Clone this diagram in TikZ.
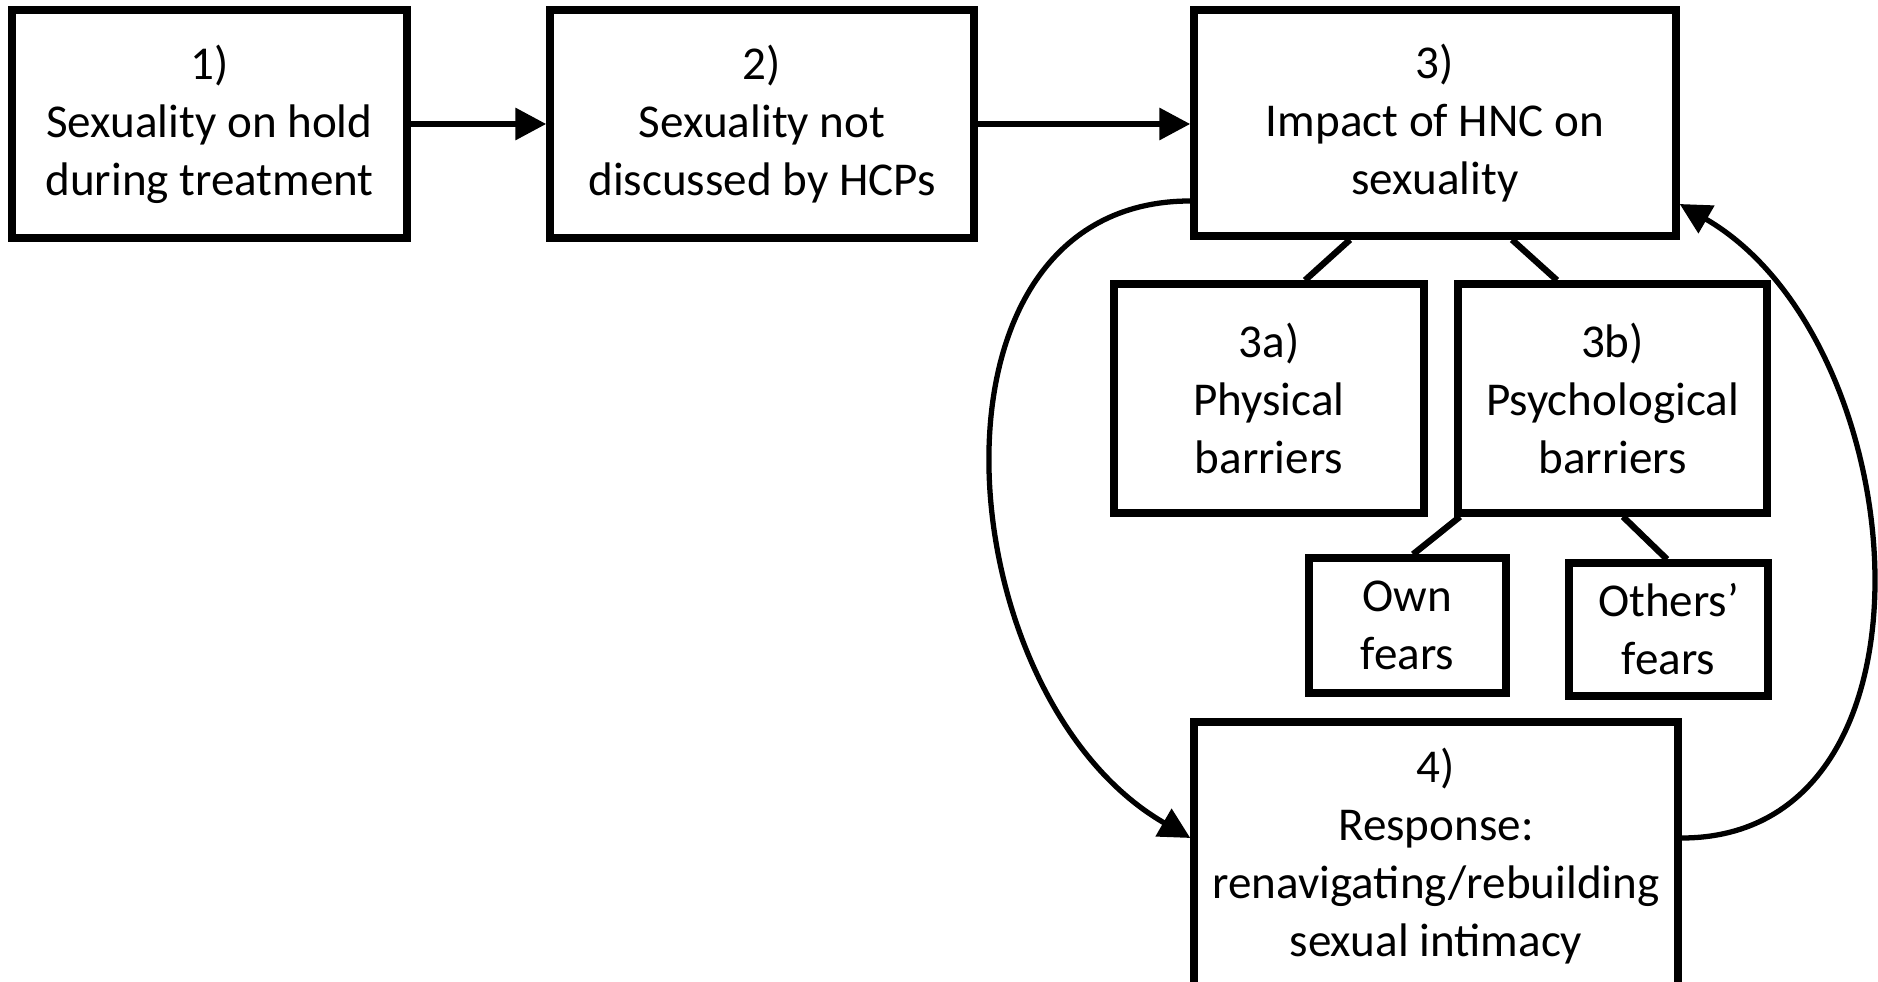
\documentclass[tikz,border=0pt]{standalone}
\usepackage{fontspec}
\setmainfont{Carlito}
\usetikzlibrary{arrows.meta}

\begin{document}
\begin{tikzpicture}[
    box/.style={draw=black, line width=2.1pt, align=center, inner sep=0pt,
      font=\fontsize{13.4}{16.5}\selectfont},
    flow/.style={line width=1.8pt, -{Triangle[length=3.1mm, width=3.1mm]}},
    loopback/.style={line width=1.5pt, -{Triangle[length=3.1mm, width=3.1mm]}},
    branch/.style={line width=1.8pt}]
  \useasboundingbox (0,0) rectangle (18.78,-9.82);
  % top row
  \node[box, minimum width=3.95cm, minimum height=2.28cm] (hold) at (2.095,-1.24)
    {1)\\Sexuality on hold\\during treatment};
  \node[box, minimum width=4.24cm, minimum height=2.28cm] (notdisc) at (7.62,-1.24)
    {2)\\Sexuality not\\discussed by HCPs};
  \node[box, minimum width=4.82cm, minimum height=2.26cm] (impact) at (14.35,-1.23)
    {3)\\Impact of HNC on\\sexuality};
  % barriers
  \node[box, minimum width=3.10cm, minimum height=2.29cm] (phys) at (12.69,-3.985)
    {3a)\\Physical\\barriers};
  \node[box, minimum width=3.09cm, minimum height=2.29cm] (psych) at (16.125,-3.985)
    {3b)\\Psychological\\barriers};
  \node[box, minimum width=1.97cm, minimum height=1.35cm] (own) at (14.075,-6.255)
    {Own\\fears};
  \node[box, minimum width=1.99cm, minimum height=1.33cm] (others) at (16.685,-6.295)
    {Others'\\fears};
  % response
  \node[box, minimum width=4.84cm, minimum height=2.68cm] (response) at (14.36,-8.56)
    {4)\\Response:\\renavigating/rebuilding\\sexual intimacy};

  \draw[flow] (hold) -- (notdisc);
  \draw[flow] (notdisc.east) -- (notdisc.east -| impact.west);

  \draw[branch] ([xshift=-8.5mm]impact.south) -- ([xshift=3.6mm]phys.north);
  \draw[branch] ([xshift=7.7mm]impact.south) -- ([xshift=-5.55mm]psych.north);
  \draw[branch] ([xshift=-15.25mm]psych.south) -- ([xshift=0.55mm]own.north);
  \draw[branch] ([xshift=1.05mm]psych.south) -- ([xshift=-0.15mm]others.north);

  \draw[loopback] ([yshift=-7.8mm]impact.west)
    to[out=180, in=150, looseness=1.14] ([yshift=1.8mm]response.west);
  \draw[loopback] ([yshift=1.8mm]response.east)
    to[out=0, in=-30, looseness=1.1] ([yshift=-8.1mm]impact.east);
\end{tikzpicture}
\end{document}
